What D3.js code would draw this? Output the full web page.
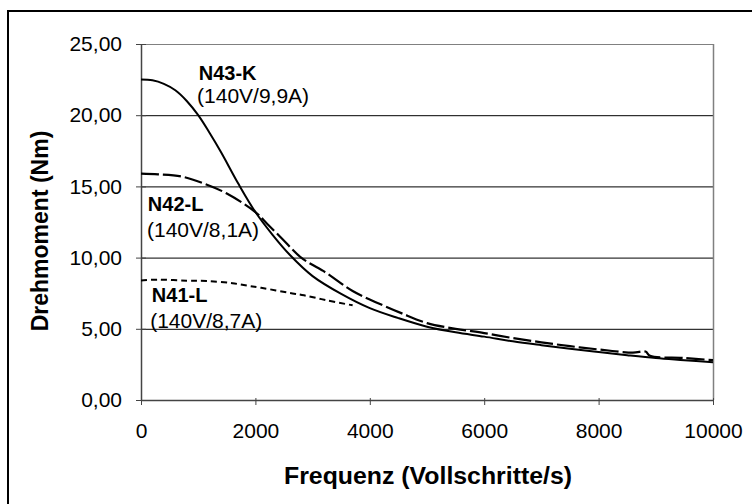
<!DOCTYPE html>
<html>
<head>
<meta charset="utf-8">
<script src="https://cdn.jsdelivr.net/npm/d3@7"></script>
<style>
  body { margin: 0; background: #fff; }
  text { font-family: "Liberation Sans", Arial, sans-serif; fill: #000; }
</style>
</head>
<body>
<div id="chart"></div>
<script>
// Drehmomentkennlinien, Werte
var freqN43 = [0, 200, 400, 600, 800, 1000, 1200, 1400, 1700, 2000, 2300, 2600, 3000, 3500, 4000, 4500, 5000, 5500, 6000, 6500, 7000, 7500, 8000, 8500, 9000, 9500, 10000];
var torqueN43 = [22.5, 22.45, 22.2, 21.75, 21.0, 20.0, 18.75, 17.4, 15.2, 13.2, 11.6, 10.2, 8.7, 7.45, 6.45, 5.75, 5.15, 4.75, 4.45, 4.12, 3.85, 3.6, 3.37, 3.15, 2.95, 2.8, 2.65];

var freqN42 = [0, 300, 700, 1100, 1500, 2000, 2200, 2450, 2800, 3250, 3700, 4200, 4550, 5000, 5500, 6000, 6500, 7000, 7500, 8000, 8600, 8820, 8900, 9500, 10000];
var torqueN42 = [15.9, 15.85, 15.7, 15.2, 14.5, 13.2, 12.4, 11.4, 10.0, 8.9, 7.65, 6.7, 6.1, 5.4, 5.0, 4.7, 4.35, 4.05, 3.78, 3.55, 3.32, 3.4, 3.1, 2.95, 2.8];

var freqN41 = [0, 300, 800, 1150, 1600, 1900, 2100, 2600, 2850, 3250, 3700];
var torqueN41 = [8.4, 8.45, 8.38, 8.36, 8.2, 8.0, 7.88, 7.52, 7.35, 7.0, 6.65];

var xTicks = [0, 2000, 4000, 6000, 8000, 10000];
var yTicks = [0, 5, 10, 15, 20, 25];

var seriesNames = ["N43-K", "N42-L", "N41-L"];
var seriesSub = ["(140V/9,9A)", "(140V/8,1A)", "(140V/8,7A)"];
// Beschriftungsanker in Datenkoordinaten
var labelFreq = [1010, 120, 190];
var labelTorque = [22.47, 13.27, 6.88];
var subFreq = [980, 105, 160];
var subTorque = [20.83, 11.45, 5.06];

var width = 752, height = 504;
var margin = {top: 44, right: 39, bottom: 104, left: 141};

var svg = d3.select("#chart").append("svg")
    .attr("width", width).attr("height", height);

// Rahmen
svg.append("rect")
    .attr("x", 8).attr("y", 11)
    .attr("width", 800).attr("height", 600)
    .attr("fill", "none").attr("stroke", "#000").attr("stroke-width", 2);

var x = d3.scaleLinear().domain([0, 10000]).range([margin.left, width - margin.right]);
var y = d3.scaleLinear().domain([0, 25]).range([height - margin.bottom, margin.top]);

// Gitterlinien
svg.append("g").selectAll("line")
    .data(yTicks.filter(function(d) { return d > 0; }))
    .enter().append("line")
    .attr("x1", x(0)).attr("x2", x(10000))
    .attr("y1", function(d) { return y(d) + 0.5; })
    .attr("y2", function(d) { return y(d) + 0.5; })
    .attr("stroke", function(d) { return d == 25 ? "#808080" : "#000"; })
    .attr("stroke-width", 1);

svg.append("line")
    .attr("x1", x(10000) + 0.5).attr("x2", x(10000) + 0.5)
    .attr("y1", y(25)).attr("y2", y(0))
    .attr("stroke", "#808080").attr("stroke-width", 1.5);

var fmt = function(d) { return d3.format(".2f")(d).replace(".", ","); };

var gy = svg.append("g")
    .attr("transform", "translate(" + x(0) + ",0)")
    .call(d3.axisLeft(y).tickValues(yTicks).tickSize(5).tickSizeOuter(0).tickPadding(14).tickFormat(fmt));
gy.selectAll(".tick line").attr("x2", 5).attr("x1", -5).attr("stroke", "#444");
gy.select(".domain").attr("stroke", "#444").attr("stroke-width", 1.5);
gy.selectAll("text").style("font-size", "21px").attr("font-family", null);

var gx = svg.append("g")
    .attr("transform", "translate(0," + y(0) + ")")
    .call(d3.axisBottom(x).tickValues(xTicks).tickSize(5).tickSizeOuter(0).tickPadding(18).tickFormat(d3.format("d")));
gx.selectAll(".tick line").attr("y1", -2).attr("stroke", "#444");
gx.select(".domain").attr("stroke", "#444").attr("stroke-width", 1.5);
gx.selectAll("text").style("font-size", "21px").attr("font-family", null);

// Achsentitel
svg.append("text")
    .attr("x", (x(0) + x(10000)) / 2 + 1).attr("y", 484)
    .attr("text-anchor", "middle")
    .style("font-size", "23px").style("font-weight", "bold")
    .attr("textLength", 288).attr("lengthAdjust", "spacingAndGlyphs")
    .text("Frequenz (Vollschritte/s)");

svg.append("text")
    .attr("transform", "translate(48," + 231 + ") rotate(-90)")
    .attr("text-anchor", "middle")
    .style("font-size", "23px").style("font-weight", "bold")
    .text("Drehmoment (Nm)");

// Kennlinien
var line = d3.line()
    .x(function(d) { return x(d[0]); })
    .y(function(d) { return y(d[1]); })
    .curve(d3.curveCatmullRom.alpha(0.5));

var series = [
    {f: freqN43, t: torqueN43, dash: null, w: 2},
    {f: freqN42, t: torqueN42, dash: "18,4", w: 2.2},
    {f: freqN41, t: torqueN41, dash: "6,4", w: 2}
];

series.forEach(function(s) {
    svg.append("path")
        .datum(d3.zip(s.f, s.t))
        .attr("fill", "none")
        .attr("stroke", "#000")
        .attr("stroke-width", s.w)
        .attr("stroke-dasharray", s.dash)
        .attr("d", line);
});

// Beschriftungen
seriesNames.forEach(function(n, i) {
    svg.append("text")
        .attr("x", x(labelFreq[i])).attr("y", y(labelTorque[i]))
        .style("font-size", "20px").style("font-weight", "bold")
        .text(n);
    svg.append("text")
        .attr("x", x(subFreq[i])).attr("y", y(subTorque[i]))
        .style("font-size", "21px")
        .text(seriesSub[i]);
});
</script>
</body>
</html>
